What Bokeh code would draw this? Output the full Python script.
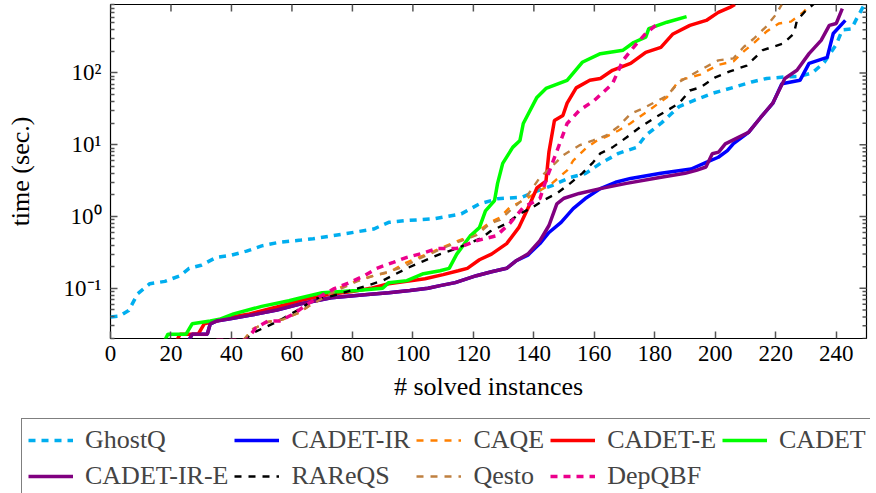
import math
from bokeh.plotting import figure
from bokeh.layouts import column
from bokeh.models import (FixedTicker, CustomJSTickFormatter, Legend, LegendItem, Range1d)
from bokeh.embed import file_html
from bokeh.resources import INLINE

FONT = "Liberation Serif"

# ---------------- data ----------------
x_ticks = [0, 20, 40, 60, 80, 100, 120, 140, 160, 180, 200, 220, 240]
y_ticks = [0.1, 1, 10, 100]
y_minor = [0.02, 0.03, 0.04, 0.05, 0.06, 0.07, 0.08, 0.09,
           0.2, 0.3, 0.4, 0.5, 0.6, 0.7, 0.8, 0.9,
           2, 3, 4, 5, 6, 7, 8, 9,
           20, 30, 40, 50, 60, 70, 80, 90,
           200, 300, 400, 500, 600, 700, 800, 900]
x_label = "# solved instances"
y_label = "time (sec.)"

ghostq_x = [0, 3, 6, 9, 13, 18, 23, 26, 30, 35, 40, 45, 50, 56, 63, 67, 77, 87, 92, 98, 107, 116,
            122, 128, 136, 140, 146, 152, 157, 162, 168, 174, 177, 182, 188, 193, 199, 206, 212,
            217, 223, 228, 232, 236, 240, 242, 245, 247, 249]
ghostq_t = [0.040, 0.041, 0.049, 0.084, 0.116, 0.125, 0.15, 0.19, 0.21, 0.27, 0.29, 0.33, 0.39,
            0.44, 0.47, 0.49, 0.57, 0.67, 0.83, 0.88, 0.93, 1.09, 1.5, 1.77, 1.86, 2.18, 2.7, 3.5,
            3.96, 5.5, 7.6, 9.2, 13.5, 19.8, 34, 41.6, 52, 63, 75, 84, 88, 90, 100, 140, 250, 400,
            410, 600, 850]

cadet_ir_x = [26, 27, 32, 33, 35, 40, 46, 55, 63, 73, 85, 92, 99, 105, 109, 114, 121, 126, 131,
              134, 138, 142, 145, 149, 153, 157, 162, 167, 172, 182, 192, 197, 201, 204, 206, 211,
              215, 219, 222, 228, 231, 237, 239, 243]
cadet_ir_t = [0.019, 0.023, 0.023, 0.032, 0.035, 0.038, 0.042, 0.05, 0.061, 0.074, 0.082, 0.087,
              0.093, 0.1, 0.109, 0.12, 0.15, 0.17, 0.19, 0.24, 0.29, 0.42, 0.6, 0.83, 1.29, 1.78,
              2.45, 3.0, 3.4, 4.0, 4.6, 5.7, 6.7, 8.3, 10.4, 14.9, 24, 37.7, 71, 79, 136, 165,
              355, 540]

caqe_x = [44, 47, 52, 57, 62, 66, 70, 74, 81.5, 87, 92, 97, 102, 107, 111, 116.6, 121, 125.5,
          128.8, 132, 137.6, 142, 146, 151, 153, 157.5, 161, 164, 168, 172, 177, 184, 188, 195,
          201, 206, 209.4, 212.7, 217, 221, 225, 229, 231]
caqe_t = [0.019, 0.027, 0.034, 0.037, 0.045, 0.058, 0.075, 0.095, 0.128, 0.15, 0.166, 0.22, 0.27,
          0.33, 0.39, 0.49, 0.6, 0.83, 0.97, 1.34, 1.78, 2.3, 2.9, 4.4, 6.0, 9.2, 11.5, 13, 15.8,
          20, 28, 46, 79, 95, 130, 145, 200, 260, 380, 490, 520, 700, 850]

cadet_e_x = [22, 23, 29, 31, 35, 40, 46, 55, 63, 72, 80, 86, 92, 98, 104, 110, 115, 118, 122,
             126, 131, 135, 138.7, 141, 144, 145, 146.8, 149.6, 151, 154, 158.5, 162, 166, 172,
             177, 182, 186, 191.6, 197, 201, 204.8, 206.5]
cadet_e_t = [0.019, 0.023, 0.023, 0.032, 0.035, 0.04, 0.044, 0.055, 0.068, 0.082, 0.09, 0.1,
             0.116, 0.125, 0.136, 0.155, 0.176, 0.19, 0.25, 0.3, 0.42, 0.7, 1.5, 2.5, 3.1, 8,
             21.8, 25.6, 38, 62, 79, 84, 109, 136, 194, 228, 350, 460, 540, 700, 820, 900]

cadet_x = [18, 19, 25, 27, 33, 36, 40.7, 50, 59, 63, 70, 81.5, 90, 92, 98, 103.5, 109, 112,
           114.5, 119, 122, 124, 127, 128, 129.7, 133, 135.4, 136.5, 141, 144, 151, 156, 162,
           169.5, 173, 177, 178, 184, 190.5]
cadet_t = [0.019, 0.023, 0.023, 0.032, 0.035, 0.037, 0.044, 0.056, 0.067, 0.074, 0.087, 0.093,
           0.1, 0.12, 0.128, 0.16, 0.176, 0.19, 0.30, 0.54, 0.70, 1.2, 1.67, 2.9, 5.5, 9.2, 11.5,
           19.8, 45.7, 61, 79, 141, 186, 208, 266, 316, 415, 510, 610]

cadet_ir_e_x = [26, 27, 32, 33, 35, 40, 46, 55, 63, 73, 85, 92, 99, 105, 109, 114, 121, 126,
                131, 134, 138, 142, 145, 147.6, 150, 155, 162, 170.6, 181.6, 190, 193.7, 196.9,
                199, 201.1, 203.3, 211, 215, 219, 223, 227, 231, 235, 237.7, 240, 242]
cadet_ir_e_t = [0.019, 0.023, 0.023, 0.032, 0.035, 0.038, 0.042, 0.05, 0.061, 0.074, 0.082,
                0.087, 0.093, 0.1, 0.109, 0.12, 0.15, 0.17, 0.19, 0.24, 0.3, 0.46, 0.75, 1.5,
                1.8, 2.1, 2.45, 2.9, 3.5, 4.0, 4.4, 4.9, 7.5, 7.9, 10.3, 14.9, 24, 38, 84, 109,
                186, 285, 460, 490, 790]

rareqs_x = [44, 48, 55, 62, 68, 73.7, 80, 84.8, 90, 98, 103.5, 109, 114.5, 123, 125.5, 131,
            135.4, 139, 143, 147.6, 152, 156, 159.6, 162, 166, 170.6, 175, 179.4, 184, 188, 191.6,
            195, 200, 204.8, 210.4, 215.7, 222.4, 226, 227, 230, 233]
rareqs_t = [0.019, 0.025, 0.034, 0.05, 0.072, 0.079, 0.095, 0.109, 0.128, 0.19, 0.24, 0.30, 0.36,
            0.51, 0.62, 0.8, 1.1, 1.3, 1.67, 2.1, 2.9, 4.0, 5.7, 7.6, 9.2, 12.6, 17.4, 23, 30,
            37.7, 57, 63, 87, 105, 127, 208, 257, 355, 540, 744, 950]

qesto_x = [44, 47, 52, 57, 62, 66, 70, 74, 81.5, 87, 92, 97, 102, 107, 111, 116.6, 121, 125.5,
           128.8, 132, 137.6, 142, 146, 149.6, 155, 159.6, 164, 168, 172, 176, 184, 188, 195,
           201, 206, 209.4, 212.7, 217, 220, 222]
qesto_t = [0.019, 0.027, 0.034, 0.037, 0.045, 0.058, 0.072, 0.09, 0.125, 0.15, 0.17, 0.2, 0.26,
           0.32, 0.38, 0.47, 0.55, 0.8, 0.9, 1.2, 1.9, 3.5, 5.0, 7.1, 9.8, 11.5, 13.5, 18, 27, 32,
           48, 75, 110, 150, 160, 230, 300, 450, 650, 900]

depqbf_x = [35, 45, 48, 52, 56, 61, 65, 70, 74, 79, 84, 88, 93.5, 98, 103.5, 108, 114.5, 121,
            127.6, 132, 136.5, 142, 144, 146.8, 151, 155, 160, 166, 169.5, 174, 177, 181]
depqbf_t = [0.019, 0.019, 0.028, 0.035, 0.035, 0.045, 0.06, 0.08, 0.099, 0.12, 0.15, 0.19, 0.23,
            0.27, 0.31, 0.36, 0.36, 0.46, 0.54, 0.8, 1.34, 1.78, 3.2, 6.6, 19.8, 30, 41.6, 71,
            151, 257, 355, 490]

series = [
    ("GhostQ", ghostq_x, ghostq_t, "#00AEEF", 3.5, "7 6"),
    ("CADET-IR", cadet_ir_x, cadet_ir_t, "#0000FF", 3.5, "solid"),
    ("CAQE", caqe_x, caqe_t, "#FF8000", 2.4, "7 7"),
    ("CADET-E", cadet_e_x, cadet_e_t, "#FF0000", 3.5, "solid"),
    ("CADET", cadet_x, cadet_t, "#00FF00", 3.5, "solid"),
    ("CADET-IR-E", cadet_ir_e_x, cadet_ir_e_t, "#800080", 3.5, "solid"),
    ("RAReQS", rareqs_x, rareqs_t, "#000000", 2.4, "7 7"),
    ("Qesto", qesto_x, qesto_t, "#BF8040", 2.4, "7 7"),
    ("DepQBF", depqbf_x, depqbf_t, "#EC008C", 3.5, "7 6"),
]

X0, X1 = 0, 250
Y0, Y1 = 0.02, 900
W = 870

# ---------------- main figure ----------------
p = figure(width=W, height=415, x_range=Range1d(X0, X1), y_range=Range1d(Y0, Y1),
           y_axis_type="log", output_backend="svg", toolbar_location=None,
           min_border_left=110, min_border_right=4, min_border_top=4, min_border_bottom=77)
p.frame_align = False
p.grid.visible = False
p.outline_line_color = "black"
p.outline_line_width = 1.2
p.background_fill_color = "white"
p.border_fill_color = "white"

TICK = "#555555"
sup = CustomJSTickFormatter(code="""
const e = Math.round(Math.log10(tick));
const m = {'-':'\\u207b','0':'\\u2070','1':'\\u00b9','2':'\\u00b2','3':'\\u00b3'};
return '10' + String(e).split('').map(c => m[c]).join('');
""")

def style(ax):
    ax.axis_line_color = None
    ax.major_tick_line_color = TICK
    ax.minor_tick_line_color = TICK
    ax.major_tick_line_width = 1.5
    ax.minor_tick_line_width = 1.5
    ax.major_tick_in = 7
    ax.major_tick_out = 0
    ax.minor_tick_in = 4
    ax.minor_tick_out = 0
    ax.major_label_text_font = FONT
    ax.major_label_text_font_size = "23px"
    ax.major_label_text_color = "black"
    ax.axis_label_text_font = FONT
    ax.axis_label_text_font_size = "26px"
    ax.axis_label_text_font_style = "normal"
    ax.axis_label_text_color = "black"

xa = p.xaxis[0]
xa.ticker = FixedTicker(ticks=x_ticks)
style(xa)
xa.minor_tick_line_color = None
xa.major_label_standoff = 7
xa.axis_label = x_label
xa.axis_label_standoff = 8

ya = p.yaxis[0]
ya.ticker = FixedTicker(ticks=y_ticks, minor_ticks=y_minor)
ya.formatter = sup
style(ya)
ya.major_label_standoff = 9
ya.axis_label = y_label
ya.axis_label_standoff = 26

# mirrored ticks on the top and right edges (markers clipped by the frame)
p.scatter(x_ticks, [Y1] * len(x_ticks), marker="dash", size=14, angle=math.pi / 2,
          line_color=TICK, line_width=1.5)
p.scatter([X1] * len(y_ticks), y_ticks, marker="dash", size=14, line_color=TICK, line_width=1.5)
p.scatter([X1] * len(y_minor), y_minor, marker="dash", size=8, line_color=TICK, line_width=1.5)

for name, xs, ts, color, lw, dash in series:
    p.line(xs, ts, line_color=color, line_width=lw, line_dash=dash)

# ---------------- legend strip (same series, view range kept off the data) ----------------
q = figure(width=W, height=78, x_range=Range1d(-3, -2), y_range=Range1d(0, 1),
           output_backend="svg", toolbar_location=None,
           x_axis_location=None, y_axis_location=None,
           min_border=0, min_border_left=0, min_border_right=0, min_border_top=0,
           min_border_bottom=0)
q.frame_align = False
q.grid.visible = False
q.outline_line_color = None
q.background_fill_color = "white"
q.border_fill_color = "white"

items = []
for name, xs, ts, color, lw, dash in series:
    r = q.line(xs, ts, line_color=color, line_width=lw, line_dash=dash)
    items.append(LegendItem(label=name, renderers=[r]))

legend = Legend(items=items, orientation="horizontal", ncols=5,
                location=(21, -5),
                label_text_font=FONT, label_text_font_size="26px",
                glyph_width=45, glyph_height=26, label_height=26, label_standoff=12,
                spacing=6, padding=6, margin=0,
                border_line_color="black", border_line_width=1.2,
                background_fill_color="white", background_fill_alpha=1)
q.add_layout(legend)

layout = column(p, q, spacing=0)
open("out.html", "w").write(file_html(layout, INLINE))
